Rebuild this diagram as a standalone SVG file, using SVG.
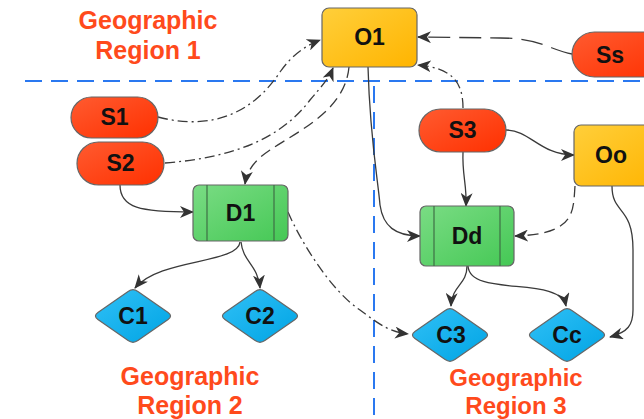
<svg xmlns="http://www.w3.org/2000/svg" xmlns:xlink="http://www.w3.org/1999/xlink" width="644" height="419" viewBox="0 0 644 419">
  <style>
    .region { font-family: "Liberation Sans", Arial, sans-serif; font-weight: bold; font-size: 25px; fill: #ff4a1c; text-anchor: middle; }
    .r3 { font-size: 24px; }
    .label { font-family: "Liberation Sans", Arial, sans-serif; font-weight: bold; font-size: 23px; fill: #111; text-anchor: middle; }
    .border { fill: none; stroke: #2a78f0; stroke-width: 2; stroke-dasharray: 17 9; }
    .node { stroke: #666; stroke-width: 1.2; }
    .inner { stroke: #3f6f45; stroke-width: 1.2; }
    .edge { fill: none; stroke: #3a3a3a; stroke-width: 1.3; marker-end: url(#arrow); }
    .dashed { stroke-dasharray: 11 6; }
    .longdash { stroke-dasharray: 22 9; }
    .dashdot { stroke-dasharray: 10 4 2 4; }
  </style>
  <defs>
    <linearGradient id="gOrange" x1="0" y1="0" x2="1" y2="1">
      <stop offset="0" stop-color="#ffcf3a"/>
      <stop offset="1" stop-color="#ffb400"/>
    </linearGradient>
    <linearGradient id="gRed" x1="0" y1="0" x2="1" y2="1">
      <stop offset="0" stop-color="#ff5b30"/>
      <stop offset="1" stop-color="#ff3000"/>
    </linearGradient>
    <linearGradient id="gGreen" x1="0" y1="0" x2="1" y2="1">
      <stop offset="0" stop-color="#7adc84"/>
      <stop offset="1" stop-color="#45c855"/>
    </linearGradient>
    <linearGradient id="gBlue" x1="0" y1="0" x2="1" y2="1">
      <stop offset="0" stop-color="#30c0f6"/>
      <stop offset="1" stop-color="#00a4e4"/>
    </linearGradient>
    <path id="diamond" d="M-35.1,-3.4 L-4.9,-24.6 Q0,-28 4.9,-24.6 L35.1,-3.4 Q40,0 35.1,3.4 L4.9,24.6 Q0,28 -4.9,24.6 L-35.1,3.4 Q-40,0 -35.1,-3.4 Z"/>
    <marker id="arrow" viewBox="0 0 14 12" refX="13" refY="6" markerWidth="14" markerHeight="12" markerUnits="userSpaceOnUse" orient="auto">
      <path d="M0,0 L14,6 L0,12 L4,6 Z" fill="#333"/>
    </marker>
  </defs>

  <!-- region borders -->
  <g id="borders">
    <line class="border" x1="25" y1="81" x2="644" y2="81"/>
    <line class="border" x1="374" y1="86" x2="374" y2="419"/>
  </g>

  <!-- region captions -->
  <g id="captions">
    <text class="region" x="148" y="29">Geographic</text>
    <text class="region" x="148" y="59">Region 1</text>
    <text class="region" x="190" y="385">Geographic</text>
    <text class="region" x="190" y="414">Region 2</text>
    <text class="region r3" x="516" y="386">Geographic</text>
    <text class="region r3" x="516" y="414">Region 3</text>
  </g>

  <!-- connectors -->
  <g id="connectors">
    <path class="edge dashdot" d="M158,117 C215,132 255,110 280,72 C292,55 305,46 320,40"/>
    <path class="edge dashdot" d="M165,163 C230,158 280,140 310,100 C320,88 328,80 333,68"/>
    <path class="edge dashed" d="M349,67 C345,110 300,130 270,150 C255,160 247,170 245,184"/>
    <path class="edge" d="M120,185 C120,208 140,212 193,212"/>
    <path class="edge" d="M368,67 C370,140 378,180 380,205 C383,226 395,236 420,236"/>
    <path class="edge longdash" d="M572,54 C550,50 540,38 500,38 L418,37"/>
    <path class="edge dashdot" d="M463,108 C463,80 450,68 418,65"/>
    <path class="edge" d="M463,152 C462,175 467,185 466,206"/>
    <path class="edge" d="M506,130 C530,130 540,155 574,155"/>
    <path class="edge dashed" d="M575,186 C573,212 576,234 515,236"/>
    <path class="edge" d="M612,186 C612,215 633,205 633,250 L633,310 C633,325 628,332 610,337"/>
    <path class="edge" d="M240,242 C238,264 160,258 135,288"/>
    <path class="edge" d="M241,242 C243,262 258,265 260,288"/>
    <path class="edge dashdot" d="M288,212 C300,240 330,290 360,310 C380,325 390,332 408,334"/>
    <path class="edge" d="M467,266 C467,285 452,285 451,306"/>
    <path class="edge" d="M468,266 C470,298 560,275 566,306"/>
  </g>

  <!-- nodes -->
  <g id="O1">
    <rect class="node" x="322" y="8" width="95" height="59" rx="7" fill="url(#gOrange)"/>
    <text class="label" x="369.5" y="45">O1</text>
  </g>
  <g id="Ss">
    <rect class="node" x="572" y="32" width="100" height="45" rx="22.5" fill="url(#gRed)"/>
    <text class="label" x="610" y="63">Ss</text>
  </g>
  <g id="Oo">
    <rect class="node" x="574" y="125" width="90" height="61" rx="7" fill="url(#gOrange)"/>
    <text class="label" x="611" y="163">Oo</text>
  </g>
  <g id="S1">
    <rect class="node" x="71" y="97" width="87" height="41" rx="20.5" fill="url(#gRed)"/>
    <text class="label" x="114.5" y="125">S1</text>
  </g>
  <g id="S2">
    <rect class="node" x="77" y="142" width="87" height="43" rx="21.5" fill="url(#gRed)"/>
    <text class="label" x="120.5" y="171">S2</text>
  </g>
  <g id="S3">
    <rect class="node" x="419" y="109" width="87" height="43" rx="21.5" fill="url(#gRed)"/>
    <text class="label" x="462.5" y="138">S3</text>
  </g>
  <g id="D1">
    <rect class="node" x="193" y="185" width="95" height="56" rx="6" fill="url(#gGreen)"/>
    <line class="inner" x1="207" y1="185" x2="207" y2="241"/>
    <line class="inner" x1="274" y1="185" x2="274" y2="241"/>
    <text class="label" x="240.5" y="221">D1</text>
  </g>
  <g id="Dd">
    <rect class="node" x="420" y="206" width="94" height="60" rx="6" fill="url(#gGreen)"/>
    <line class="inner" x1="434" y1="206" x2="434" y2="266"/>
    <line class="inner" x1="500" y1="206" x2="500" y2="266"/>
    <text class="label" x="467" y="244">Dd</text>
  </g>
  <g id="C1">
    <use xlink:href="#diamond" transform="translate(133,316)" fill="url(#gBlue)" class="node"/>
    <text class="label" x="133" y="324">C1</text>
  </g>
  <g id="C2">
    <use xlink:href="#diamond" transform="translate(260,316)" fill="url(#gBlue)" class="node"/>
    <text class="label" x="260" y="324">C2</text>
  </g>
  <g id="C3">
    <use xlink:href="#diamond" transform="translate(450,335)" fill="url(#gBlue)" class="node"/>
    <text class="label" x="451" y="343">C3</text>
  </g>
  <g id="Cc">
    <use xlink:href="#diamond" transform="translate(567,335)" fill="url(#gBlue)" class="node"/>
    <text class="label" x="567" y="343">Cc</text>
  </g>
</svg>
